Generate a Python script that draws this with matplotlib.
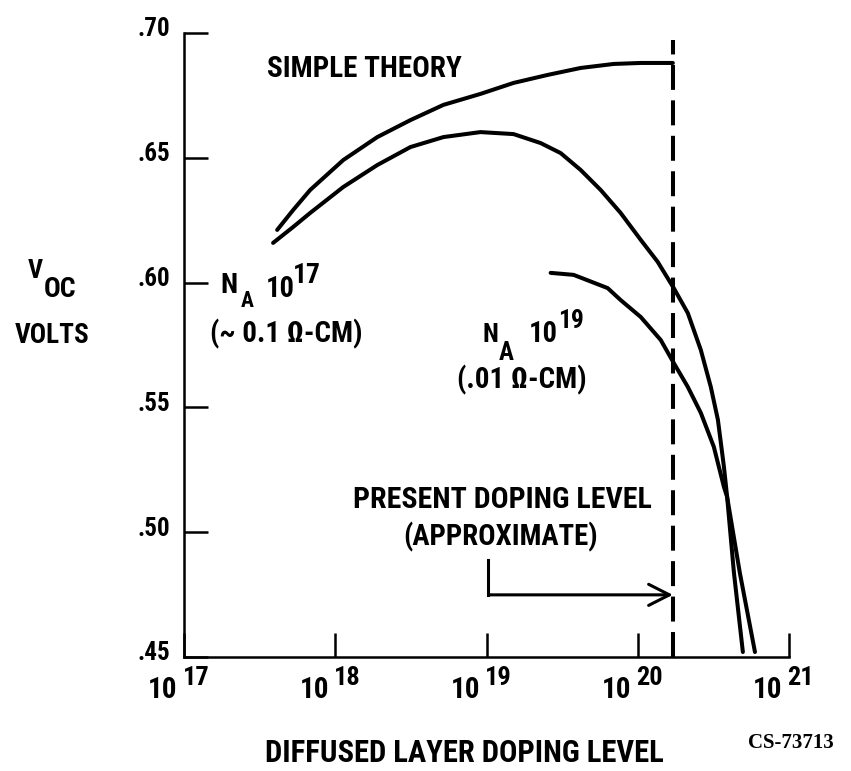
import matplotlib
matplotlib.use("Agg")
import matplotlib.pyplot as plt
from matplotlib import font_manager
from matplotlib.transforms import ScaledTranslation

# pick the narrowest installed sans family
available = {f.name for f in font_manager.fontManager.ttflist}
main_font = 'DejaVu Sans'
for cand in ['Liberation Sans Narrow', 'DejaVu Sans Condensed',
             'Roboto Condensed', 'Open Sans Condensed', 'Liberation Sans',
             'Roboto']:
    if cand in available:
        main_font = cand
        break
plt.rcParams['font.family'] = [main_font, 'DejaVu Sans']
plt.rcParams['font.weight'] = 'bold'

# --------------------------------
# Data
# --------------------------------
# exponents of the diffused-layer doping level (cm^-3), Voc in volts
simple_exp = [17.616, 17.722, 17.834, 18.053, 18.278, 18.497, 18.715, 18.960,
              19.179, 19.404, 19.623, 19.841, 20.020, 20.232]
simple_voc = [0.6211, 0.6291, 0.6371, 0.6491, 0.6583, 0.6651, 0.6712, 0.6756,
              0.6800, 0.6832, 0.6860, 0.6876, 0.6880, 0.6880]

na17_exp = [17.589, 17.722, 17.834, 18.053, 18.278, 18.497, 18.715, 18.960,
            19.179, 19.358, 19.490, 19.623, 19.755, 19.887, 20.020, 20.132,
            20.238, 20.331, 20.417, 20.483, 20.530, 20.570, 20.591, 20.636,
            20.695]
na17_voc = [0.6159, 0.6223, 0.6279, 0.6383, 0.6471, 0.6543, 0.6583, 0.6603,
            0.6595, 0.6559, 0.6519, 0.6451, 0.6371, 0.6279, 0.6171, 0.6083,
            0.5978, 0.5878, 0.5730, 0.5582, 0.5450, 0.5261, 0.5141, 0.4837,
            0.4520]

na19_exp = [19.424, 19.576, 19.801, 19.887, 20.020, 20.152, 20.238, 20.331,
            20.417, 20.503, 20.570, 20.591, 20.675, 20.775]
na19_voc = [0.6039, 0.6031, 0.5978, 0.5930, 0.5862, 0.5770, 0.5678, 0.5582,
            0.5478, 0.5342, 0.5181, 0.5141, 0.4837, 0.4520]

present_exp = 20.232          # present doping level (dashed line)
present_top = 0.6972
arrow_start_exp = 19.013
arrow_top_voc = 0.4889
arrow_voc = 0.4749

y_ticks = [0.45, 0.50, 0.55, 0.60, 0.65, 0.70]
y_tick_labels = ['.45', '.50', '.55', '.60', '.65', '.70']
x_tick_exps = [17, 18, 19, 20, 21]

W, H = 851, 771


def px(x, y):
    return x / W, 1 - y / H


def put(x, y, s, width, size, **kw):
    # left/baseline text, shrunk so it is no wider than in the reference
    t = fig.text(*px(x, y), s, fontsize=size, ha='left', va='baseline', **kw)
    w = t.get_window_extent(renderer=renderer).width
    if w > width:
        t.set_fontsize(size * width / w)
    return t


# --------------------------------
# Figure
# --------------------------------
fig = plt.figure(figsize=(W / 100, H / 100), dpi=100)
renderer = fig.canvas.get_renderer()
ax = fig.add_axes([184 / W, 1 - 657 / H, 605 / W, 624 / H])
ax.set_xscale('log')
ax.set_xlim(1e17, 1e21)
ax.set_ylim(0.45, 0.70)

lw = 2.9
for xs, ys in [(simple_exp, simple_voc), (na17_exp, na17_voc),
               (na19_exp, na19_voc)]:
    ax.plot([10.0 ** e for e in xs], ys, color='black', lw=lw,
            solid_capstyle='round', solid_joinstyle='round')

ax.plot([10.0 ** present_exp] * 2, [0.45, present_top], color='black',
        lw=2.9, linestyle=(0, (6.2, 2.6)))

# arrow to the present doping level
ax.plot([10.0 ** arrow_start_exp] * 2, [arrow_top_voc, arrow_voc],
        color='black', lw=2.2)
ax.annotate('', xy=(10.0 ** present_exp, arrow_voc),
            xytext=(10.0 ** arrow_start_exp, arrow_voc),
            arrowprops=dict(arrowstyle='->,head_length=0.75,head_width=0.38',
                            color='black', lw=2.2, shrinkA=0, shrinkB=0,
                            mutation_scale=20))

# axes styling
for side in ['top', 'right']:
    ax.spines[side].set_visible(False)
for side in ['left', 'bottom']:
    ax.spines[side].set_linewidth(1.8)
ax.set_yticks(y_ticks, y_tick_labels)
ax.set_xticks([10.0 ** e for e in x_tick_exps])
ax.set_xticklabels([])
ax.minorticks_off()
ax.tick_params(axis='both', direction='in', length=17, width=1.8)
ax.tick_params(axis='y', labelsize=18, pad=10)
for lab in ax.get_yticklabels():
    lab.set_transform(lab.get_transform() +
                      ScaledTranslation(0, 0.06, fig.dpi_scale_trans))

# x tick labels: 10 with large exponent
for e in x_tick_exps:
    ax.annotate('10', xy=(10.0 ** e, 0), xycoords=('data', 'axes fraction'),
                xytext=(-4.5, -29.5), textcoords='offset points',
                ha='right', va='baseline', fontsize=21)
    ax.annotate(str(e), xy=(10.0 ** e, 0), xycoords=('data', 'axes fraction'),
                xytext=(-1.0, -20.2), textcoords='offset points',
                ha='left', va='baseline', fontsize=19)

# --------------------------------
# Labels
# --------------------------------
put(267, 77, 'SIMPLE THEORY', 195, 24)

put(28, 278, 'V', 15, 19)
put(44, 297, 'OC', 36, 20)
put(15, 343, 'VOLTS', 75, 21)

put(220, 293, 'N', 20, 20)
put(241, 307, 'A', 13, 18)
put(266, 297, '10', 29, 21)
put(293, 283, '17', 28, 21)
put(210, 342, '(~ 0.1 \u03a9-CM)', 168, 21)

put(482, 342, 'N', 16, 20)
put(499, 360, 'A', 15, 18)
put(529, 342, '10', 29, 21)
put(558, 328, '19', 26, 21)
put(457, 388, '(.01 \u03a9-CM)', 138, 21)

put(353, 508, 'PRESENT DOPING LEVEL', 299, 23)
put(403, 545, '(APPROXIMATE)', 195, 23)

put(265, 762, 'DIFFUSED LAYER DOPING LEVEL', 400, 24)
put(748, 748, 'CS-73713', 99, 15,
    family=['Liberation Serif', 'DejaVu Serif'])

fig.savefig('out.png', dpi=100, facecolor='white')
